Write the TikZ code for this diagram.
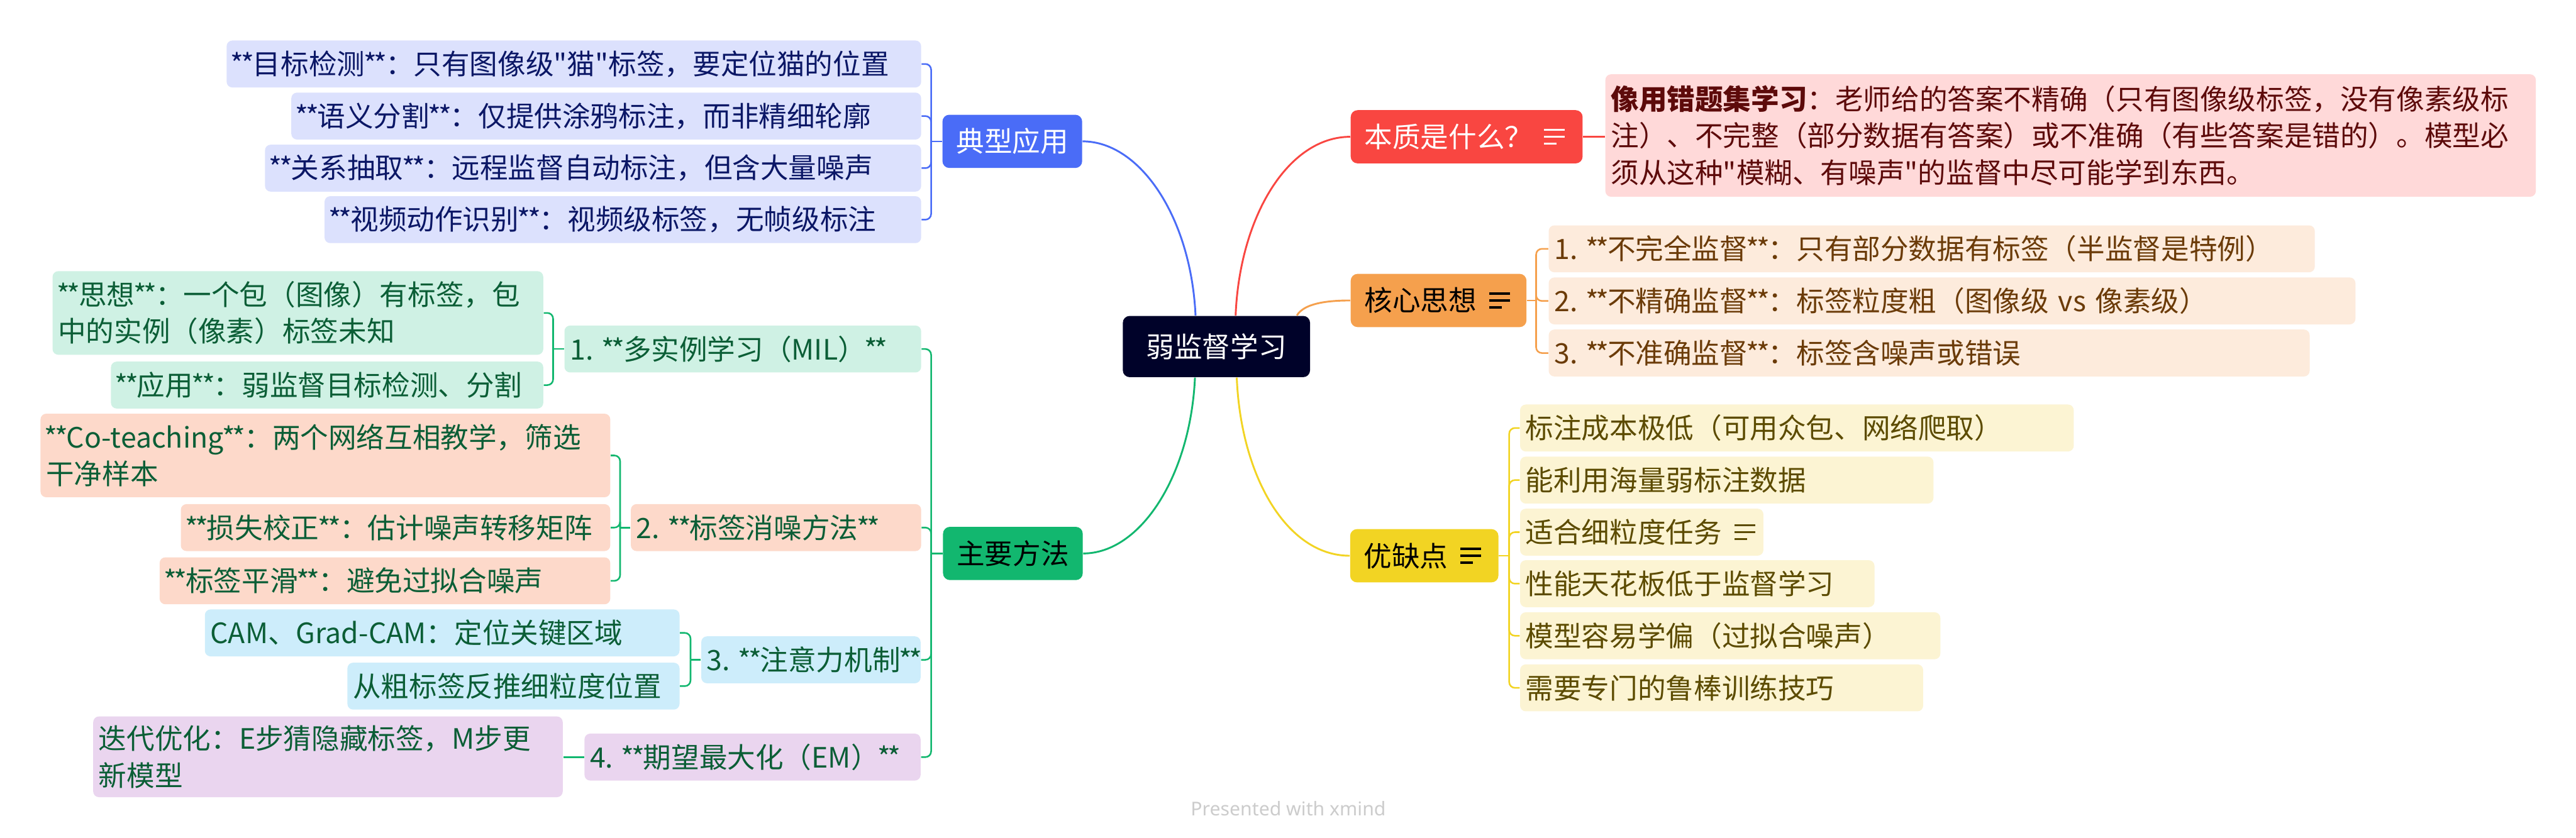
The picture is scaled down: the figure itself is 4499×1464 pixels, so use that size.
\documentclass[tikz,border=0pt]{standalone}
\usepackage{fontspec}
\newfontfamily\nf{Noto Sans CJK SC}
\newfontfamily\wmf{Noto Sans}
\newcommand{\dstar}{\kern-.05em*\kern-.1em*\kern-.05em}
\definecolor{rootc}{HTML}{000229}
\definecolor{bluec}{HTML}{4A6CF7}
\definecolor{redc}{HTML}{F94641}
\definecolor{orangec}{HTML}{F5A04D}
\definecolor{yellowc}{HTML}{F2D423}
\definecolor{greenc}{HTML}{12B76F}
\definecolor{blueleaf}{HTML}{DCE1FD}
\definecolor{bluetxt}{HTML}{0B1766}
\definecolor{pinkleaf}{HTML}{FFD9D9}
\definecolor{pinktxt}{HTML}{5D0A0A}
\definecolor{orangeleaf}{HTML}{FDEBDC}
\definecolor{orangetxt}{HTML}{6B3B08}
\definecolor{yellowleaf}{HTML}{FCF4D3}
\definecolor{yellowtxt}{HTML}{5C4B00}
\definecolor{mintleaf}{HTML}{CFF1E4}
\definecolor{peachleaf}{HTML}{FDD9CA}
\definecolor{skyleaf}{HTML}{CDEDFB}
\definecolor{lilacleaf}{HTML}{EAD5EF}
\definecolor{greentxt}{HTML}{0B5E36}
\definecolor{wm}{HTML}{CCCCCC}
\tikzset{
  txt/.style={font=\nf\fontsize{12.25pt}{16pt}\selectfont},
  topic/.style={txt, rounded corners=3pt, inner sep=0pt, minimum height=23.25pt, fill=#1},
  leaf/.style={txt, rounded corners=2.5pt, inner xsep=2.4pt, inner ysep=0pt, align=left, anchor=north west, fill=#1},
  lineone/.style={minimum height=20.5pt},
  linetwo/.style={minimum height=36.5pt},
  trunk/.style={line width=0.8pt, draw=#1},
  brace/.style={line width=0.7pt, draw=#1, rounded corners=2.5pt},
  noteicon/.pic={\draw[line width=1pt] (0,-12)--(36,-12) (0,0)--(36,0) (0,12)--(22,12);}
}
\begin{document}
\begin{tikzpicture}[x=0.25pt,y=-0.25pt]
\useasboundingbox (0,0) rectangle (4499,1464);
\fill[white] (0,0) rectangle (4499,1464);

% central and main topics
\node[topic=rootc, text=white, minimum width=81.75pt, minimum height=26.75pt] (root) at (2124.5,605.5) {弱监督学习};
\node[topic=bluec, text=white, minimum width=61pt] (typ) at (1768,247) {典型应用};
\node[topic=redc, text=white, text width=89.25pt, align=left, inner xsep=6pt] (ess) at (2561.5,239) {本质是什么？};
\node[topic=orangec, text=black, text width=64.75pt, align=left, inner xsep=6pt] (core) at (2512.5,525) {核心思想};
\node[topic=yellowc, text=black, text width=52.75pt, align=left, inner xsep=6pt] (pros) at (2487.5,971) {优缺点};
\node[topic=greenc, text=black, minimum width=61pt] (meth) at (1769,967) {主要方法};

% 典型应用 leaves
\node[leaf=blueleaf, text=bluetxt, lineone, text width=298.45pt] (t1) at (395,70) {\dstar{}目标检测\dstar{}：只有图像级"猫"标签，要定位猫的位置};
\node[leaf=blueleaf, text=bluetxt, lineone, text width=270.2pt] (t2) at (508,161) {\dstar{}语义分割\dstar{}：仅提供涂鸦标注，而非精细轮廓};
\node[leaf=blueleaf, text=bluetxt, lineone, text width=281.7pt] (t3) at (462,252) {\dstar{}关系抽取\dstar{}：远程监督自动标注，但含大量噪声};
\node[leaf=blueleaf, text=bluetxt, lineone, text width=255.7pt] (t4) at (566,342) {\dstar{}视频动作识别\dstar{}：视频级标签，无帧级标注};

% 本质 leaf
\node[leaf=pinkleaf, text=pinktxt, minimum height=53.5pt, text width=401.45pt] (def) at (2803,129) {\textbf{像用错题集学习}：老师给的答案不精确（只有图像级标签，没有像素级标\\注）、不完整（部分数据有答案）或不准确（有些答案是错的）。模型必\\须从这种"模糊、有噪声"的监督中尽可能学到东西。};

% 核心思想 leaves
\node[leaf=orangeleaf, text=orangetxt, lineone, text width=329.7pt] (c1) at (2704,393) {1.~\dstar{}不完全监督\dstar{}：只有部分数据有标签（半监督是特例）};
\node[leaf=orangeleaf, text=orangetxt, lineone, text width=347.45pt] (c2) at (2704,484) {2.~\dstar{}不精确监督\dstar{}：标签粒度粗（图像级~vs~像素级）};
\node[leaf=orangeleaf, text=orangetxt, lineone, text width=327.45pt] (c3) at (2704,575) {3.~\dstar{}不准确监督\dstar{}：标签含噪声或错误};

% 优缺点 leaves
\node[leaf=yellowleaf, text=yellowtxt, lineone, text width=236.95pt] (y1) at (2654,706) {标注成本极低（可用众包、网络爬取）};
\node[leaf=yellowleaf, text=yellowtxt, lineone, text width=175.7pt] (y2) at (2654,797) {能利用海量弱标注数据};
\node[leaf=yellowleaf, text=yellowtxt, lineone, text width=101.45pt] (y3) at (2654,888) {适合细粒度任务};
\node[leaf=yellowleaf, text=yellowtxt, lineone, text width=149.95pt] (y4) at (2654,978) {性能天花板低于监督学习};
\node[leaf=yellowleaf, text=yellowtxt, lineone, text width=178.7pt] (y5) at (2654,1069) {模型容易学偏（过拟合噪声）};
\node[leaf=yellowleaf, text=yellowtxt, lineone, text width=171.2pt] (y6) at (2654,1160) {需要专门的鲁棒训练技巧};

% 主要方法 sub-topics
\node[leaf=mintleaf, text=greentxt, lineone, text width=150.95pt] (m1) at (985,568) {1.~\dstar{}多实例学习（MIL）\dstar{}};
\node[leaf=mintleaf, text=greentxt, linetwo, text width=209.45pt] (m1a) at (91,473) {\dstar{}思想\dstar{}：一个包（图像）有标签，包\\中的实例（像素）标签未知};
\node[leaf=mintleaf, text=greentxt, lineone, text width=183.95pt] (m1b) at (193,631) {\dstar{}应用\dstar{}：弱监督目标检测、分割};

\node[leaf=peachleaf, text=greentxt, lineone, text width=121.95pt] (m2) at (1101,880) {2.~\dstar{}标签消噪方法\dstar{}};
\node[leaf=peachleaf, text=greentxt, linetwo, text width=243.95pt] (m2a) at (70,722) {\dstar{}\mbox{Co-teaching}\dstar{}：两个网络互相教学，筛选\\干净样本};
\node[leaf=peachleaf, text=greentxt, lineone, text width=182.7pt] (m2b) at (315,880) {\dstar{}损失校正\dstar{}：估计噪声转移矩阵};
\node[leaf=peachleaf, text=greentxt, lineone, text width=191.95pt] (m2c) at (278,973) {\dstar{}标签平滑\dstar{}：避免过拟合噪声};

\node[leaf=skyleaf, text=greentxt, lineone, text width=90.95pt] (m3) at (1224,1111) {3.~\dstar{}注意力机制\dstar{}};
\node[leaf=skyleaf, text=greentxt, lineone, text width=202.45pt] (m3a) at (357,1064) {CAM、\mbox{Grad-CAM}：定位关键区域};
\node[leaf=skyleaf, text=greentxt, lineone, text width=140.2pt] (m3b) at (606,1157) {从粗标签反推细粒度位置};

\node[leaf=lilacleaf, text=greentxt, lineone, text width=141.95pt] (m4) at (1020,1281) {4.~\dstar{}期望最大化（EM）\dstar{}};
\node[leaf=lilacleaf, text=greentxt, minimum height=35.25pt, text width=200.2pt] (m4a) at (162,1251) {迭代优化：E步猜隐藏标签，M步更\\新模型};

% note icons
\pic[color=white] at ([xshift=-17pt]ess.east) {noteicon};
\pic[color=black] at ([xshift=-16.5pt]core.east) {noteicon};
\pic[color=black] at ([xshift=-16.75pt]pros.east) {noteicon};
\pic[color=yellowtxt] at ([xshift=-12.75pt]y3.east) {noteicon};

% trunk curves
\draw[trunk=bluec] ([xshift=-9.125pt]root.north) .. controls +(-8,-172) and +(100,0) .. (typ.east);
\draw[trunk=redc] ([xshift=8.375pt]root.north) .. controls +(7,-172) and +(-109,0) .. (ess.west);
\draw[trunk=orangec] ([xshift=35.125pt]root.north) .. controls +(12,-20) and +(-45,0) .. (core.west);
\draw[trunk=greenc] ([xshift=-9.375pt]root.south) .. controls +(-8,172) and +(100,0) .. (meth.east);
\draw[trunk=yellowc] ([xshift=8.875pt]root.south) .. controls +(7,172) and +(-110,0) .. (pros.west);

% brackets
\coordinate (tj) at ([xshift=-4.75pt]typ.west);
\draw[brace=bluec] (typ.west) -- (tj);
\foreach \n in {t1,t2,t3,t4} \draw[brace=bluec] (tj) |- (\n.east);

\draw[trunk=redc] (ess.east) -- (ess.east -| def.west);

\coordinate (kj) at ([xshift=4pt]core.east);
\draw[brace=orangec] (core.east) -- (kj);
\foreach \n in {c1,c2,c3} \draw[brace=orangec] (kj) |- (\n.west);

\coordinate (yj) at ([xshift=4.5pt]pros.east);
\draw[brace=yellowc] (pros.east) -- (yj);
\foreach \n in {y1,y2,y3,y4,y5,y6} \draw[brace=yellowc] (yj) |- (\n.west);

\coordinate (mj) at ([xshift=-5pt]meth.west);
\draw[brace=greenc] (meth.west) -- (mj);
\foreach \n in {m1,m2,m3,m4} \draw[brace=greenc] (mj) |- (\n.east);

\coordinate (m1j) at ([xshift=-4.75pt]m1.west);
\draw[brace=greenc] (m1.west) -- (m1j);
\foreach \n in {m1a,m1b} \draw[brace=greenc] (m1j) |- (\n.east);

\coordinate (m2j) at ([xshift=-4.5pt]m2.west);
\draw[brace=greenc] (m2.west) -- (m2j);
\foreach \n in {m2a,m2b,m2c} \draw[brace=greenc] (m2j) |- (\n.east);

\coordinate (m3j) at ([xshift=-4.5pt]m3.west);
\draw[brace=greenc] (m3.west) -- (m3j);
\foreach \n in {m3a,m3b} \draw[brace=greenc] (m3j) |- (\n.east);

\draw[brace=greenc] (m4.west) -- (m4.west -| m4a.east);

% watermark
\node[font=\wmf\fontsize{8.3pt}{10pt}\selectfont, text=wm] (wmk) at (2250,1413) {Presented with \textbf{xmind}};
\end{tikzpicture}
\end{document}
